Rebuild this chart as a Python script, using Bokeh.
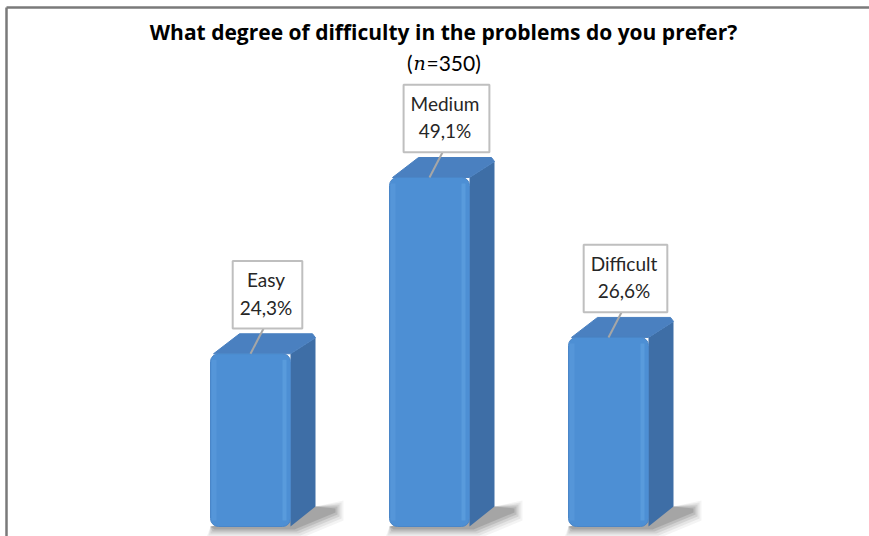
from bokeh.plotting import figure
from bokeh.models import Range1d
from bokeh.embed import file_html
from bokeh.resources import INLINE
from bokeh.core.properties import value

# Survey answers
categories = ["Easy", "Medium", "Difficult"]
shares = [24.3, 49.1, 26.6]
share_labels = ["24,3%", "49,1%", "26,6%"]
title_text = "What degree of difficulty in the problems do you prefer?"
sample_size = 350

# Canvas geometry (pixels)
W, H = 869, 536
STEP = 179      # distance between bar centres
FIRST = 250     # centre of the first bar's front face
BASE = 526      # bar bottom, measured from the top
TOP_PX = 177    # top of the tallest bar, measured from the top
ppu_y = (BASE - TOP_PX) / max(shares)


def dx(px):
    return px / STEP


def dy(px):
    return px / ppu_y


def X(px):
    return (px - FIRST) / STEP


def Y(py):
    return (BASE - py) / ppu_y


FONT = "Lato"

p = figure(width=W, height=H,
           x_range=Range1d(X(0), X(W)), y_range=Range1d(Y(H), Y(0)),
           output_backend="svg", toolbar_location=None,
           x_axis_location=None, y_axis_location=None,
           min_border=0, outline_line_color=None,
           background_fill_color="white", border_fill_color="white")
p.xgrid.visible = False
p.ygrid.visible = False

xs = list(range(len(categories)))
half = dx(40)
depth_x = dx(25)
depth_y = dy(20)

# soft ground shadow (several translucent layers)
for grow, alpha in [(8, 0.05), (6, 0.07), (4, 0.10), (2, 0.13), (0, 0.16)]:
    sx, sy = [], []
    for x in xs:
        L, R = x - half, x + half
        sx.append([L + dx(4 - grow), R + dx(4 + grow),
                   R + depth_x + dx(20 + grow), R + depth_x + dx(20 + grow),
                   R + depth_x, L])
        sy.append([-dy(3 + grow), -dy(3 + grow),
                   depth_y - dy(6 + grow), depth_y - dy(2) + dy(grow),
                   depth_y, 0])
    p.patches(sx, sy, fill_color="#303030", fill_alpha=alpha, line_color=None)

# right side faces and top faces
side_x, side_y, top_x, top_y = [], [], [], []
for x, v in zip(xs, shares):
    L, R = x - half, x + half
    side_x.append([R, R + depth_x, R + depth_x, R])
    side_y.append([0, depth_y, v + depth_y - dy(4), v])
    top_x.append([L + dx(3), L + depth_x + dx(4), R + depth_x - dx(3), R + depth_x, R])
    top_y.append([v, v + depth_y, v + depth_y, v + depth_y - dy(4), v])
p.patches(side_x, side_y, fill_color="#3e6ea6", line_color=None)
p.patches(top_x, top_y, fill_color="#4a80c0", line_color="#4a80c0", line_width=1)

# front faces
p.quad(left=[x - half for x in xs], right=[x + half for x in xs],
       bottom=[0] * len(xs), top=shares,
       fill_color="#4d8fd4", line_color="#4a86c8", line_width=1,
       border_radius=8)
# soft highlights along the front edges
p.quad(left=[x - half + dx(1) for x in xs], right=[x - half + dx(6) for x in xs],
       bottom=[dy(6)] * len(xs), top=[v - dy(6) for v in shares],
       fill_color="#6aa8e3", fill_alpha=0.3, line_color=None)
p.quad(left=[x + half - dx(8) for x in xs], right=[x + half - dx(4) for x in xs],
       bottom=[dy(6)] * len(xs), top=[v - dy(6) for v in shares],
       fill_color="#6fb1ec", fill_alpha=0.35, line_color=None)

# leader lines from bar tops to the labels
p.segment(x0=xs, y0=shares,
          x1=[x + dx(15) for x in xs], y1=[v + dy(29) for v in shares],
          line_color="#a6a6a6", line_width=2)

# value labels in boxes
p.text(x=[x + dx(17) for x in xs], y=[v + dy(59) for v in shares],
       text=[f"{c}\n{s}" for c, s in zip(categories, share_labels)],
       text_font=value(FONT), text_font_size="19px", text_color="#262626",
       text_align="center", text_baseline="middle", text_line_height=1.2,
       background_fill_color="white", border_line_color="#bfbfbf",
       border_line_width=2, padding=(7, 10, 7, 10))

# title and sample size
p.text(x=[X(443)], y=[Y(31)], text=[title_text],
       text_font=value("Open Sans"), text_font_style="bold", text_font_size="21px",
       text_color="#000000", text_align="center", text_baseline="middle")
p.text(x=[X(412)], y=[Y(62)], text=["("],
       text_font=value(FONT), text_font_size="21px", text_color="#000000",
       text_align="right", text_baseline="middle")
p.text(x=[X(419)], y=[Y(62)], text=["n"],
       text_font=value("DejaVu Serif"), text_font_style="italic",
       text_font_size="19px", text_color="#000000",
       text_align="center", text_baseline="middle")
p.text(x=[X(426)], y=[Y(62)], text=[f"={sample_size})"],
       text_font=value(FONT), text_font_size="21px", text_color="#000000",
       text_align="left", text_baseline="middle")

# frame lines on the left and top
p.segment(x0=[X(6), X(6)], y0=[Y(7), Y(7)], x1=[X(6), X(W)], y1=[Y(H), Y(7)],
          line_color="#7a7a7a", line_width=2.5)

open("out.html", "w").write(file_html(p, INLINE))
